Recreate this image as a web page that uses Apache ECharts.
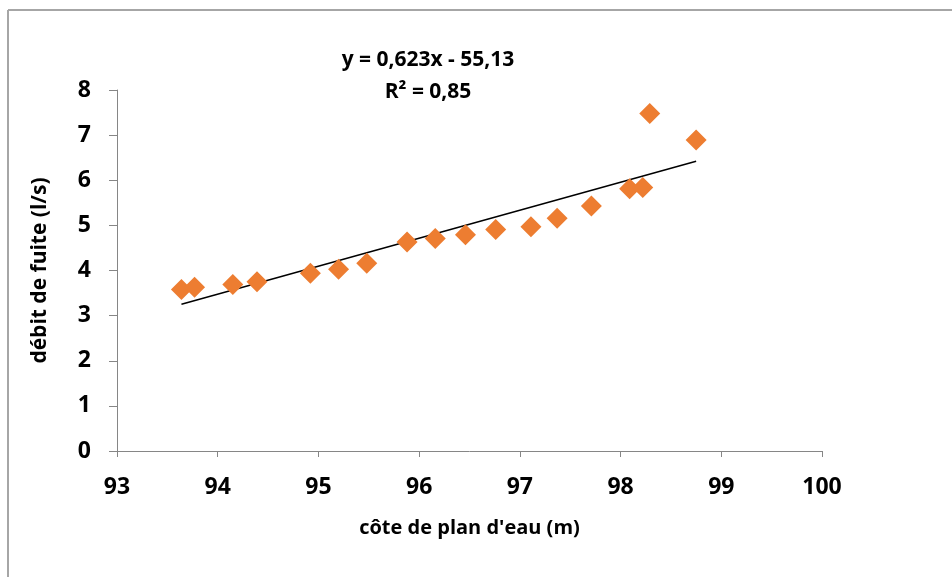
<!DOCTYPE html>
<html>
<head>
<meta charset="utf-8">
<script src="https://cdn.jsdelivr.net/npm/echarts@6/dist/echarts.min.js"></script>
<style>
  html, body { margin: 0; padding: 0; background: #fff; }
  #chart { width: 952px; height: 577px; }
</style>
</head>
<body>
<div id="chart"></div>
<script>
// niveau du plan d'eau (m) et débit de fuite (l/s)
var coteEau = [93.64, 93.77, 94.15, 94.39, 94.92, 95.20, 95.48, 95.88, 96.16,
               96.46, 96.76, 97.11, 97.37, 97.71, 98.09, 98.22, 98.29, 98.75];
var debitFuite = [3.58, 3.63, 3.69, 3.75, 3.94, 4.03, 4.16, 4.63, 4.71,
                  4.79, 4.91, 4.97, 5.16, 5.43, 5.81, 5.84, 7.48, 6.89];
// extrémités de la courbe de tendance
var trendX = [93.64, 98.75];
var trendY = [3.25, 6.42];
var equation = 'y = 0,623x - 55,13';
var r2 = 'R² = 0,85';

var points = coteEau.map(function (x, i) { return [x, debitFuite[i]]; });
var trend = trendX.map(function (x, i) { return [x, trendY[i]]; });

var font = 'Open Sans';
var chart = echarts.init(document.getElementById('chart'));
var option = {
    backgroundColor: '#fff',
    animation: false,
    grid: { left: 117, right: 130, top: 90, bottom: 126 },
    graphic: {
        elements: [
            { type: 'line', shape: { x1: 8, y1: 10, x2: 952, y2: 10 }, style: { stroke: '#a6a6a6', lineWidth: 2 } },
            { type: 'line', shape: { x1: 8, y1: 10, x2: 8, y2: 577 }, style: { stroke: '#a6a6a6', lineWidth: 2 } },
            {
                type: 'text', x: 428, y: 44,
                style: { text: equation + '\n' + r2, align: 'center', verticalAlign: 'top', fontFamily: font,
                         fontWeight: 'bold', fontSize: 21, lineHeight: 32, fill: '#000' }
            }
        ]
    },
    xAxis: {
        type: 'value', min: 93, max: 100, interval: 1,
        name: "côte de plan d'eau (m)", nameLocation: 'middle', nameGap: 67,
        nameTextStyle: { fontFamily: font, fontWeight: 'bold', fontSize: 20, color: '#000' },
        axisLine: { onZero: false, lineStyle: { color: '#868686', width: 1 } },
        axisTick: { length: 6, lineStyle: { color: '#868686' } },
        axisLabel: { margin: 25, fontFamily: font, fontWeight: 'bold', fontSize: 23, color: '#000' },
        splitLine: { show: false }
    },
    yAxis: {
        type: 'value', min: 0, max: 8, interval: 1,
        name: 'débit de fuite (l/s)', nameLocation: 'middle', nameGap: 66,
        nameTextStyle: { fontFamily: font, fontWeight: 'bold', fontSize: 21, color: '#000' },
        axisLine: { show: true, lineStyle: { color: '#868686', width: 1 } },
        axisTick: { show: true, length: 8, lineStyle: { color: '#868686' } },
        axisLabel: { margin: 26, fontFamily: font, fontWeight: 'bold', fontSize: 23, color: '#000' },
        splitLine: { show: false }
    },
    series: [
        {
            type: 'line', data: trend, symbol: 'none', silent: true,
            lineStyle: { color: '#000', width: 1.5 }, z: 1
        },
        {
            type: 'scatter', data: points, symbol: 'diamond', symbolSize: [21, 21],
            itemStyle: { color: '#ED7D31', opacity: 1 }, z: 2
        }
    ]
};
option && chart.setOption(option);
</script>
</body>
</html>
